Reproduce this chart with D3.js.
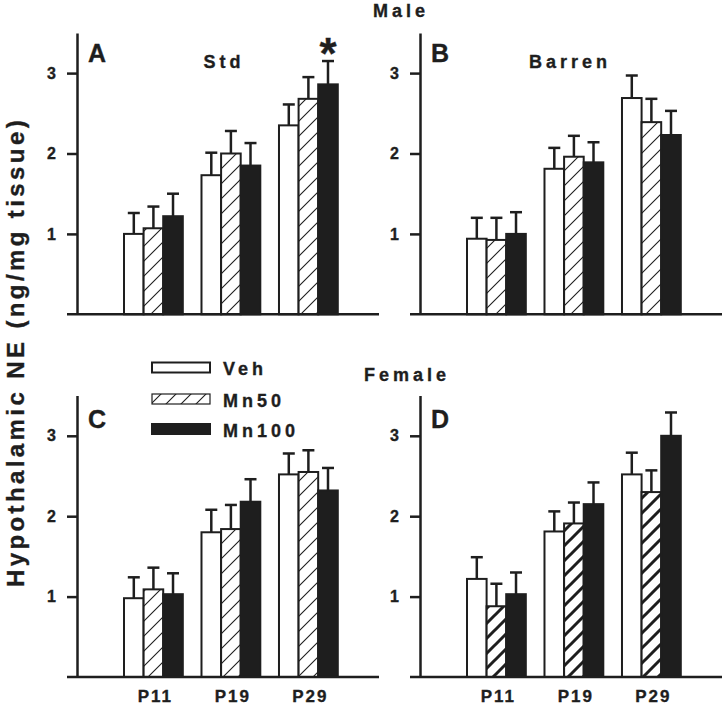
<!DOCTYPE html>
<html><head><meta charset="utf-8">
<script src="https://cdn.jsdelivr.net/npm/d3@7"></script>
<style>
html,body{margin:0;padding:0;background:#fff;}
text{font-family:"Liberation Sans",Arial,sans-serif;font-weight:bold;fill:#1e1e1e;stroke:#1e1e1e;stroke-width:0.35px;}
</style></head>
<body>
<svg id="chart" width="723" height="707"></svg>
<script>
// ---- data ----
const categories = ["P11", "P19", "P29"];
const seriesNames = ["Veh", "Mn50", "Mn100"];
const yTickValues = [1, 2, 3];
// means per series (rows: Veh, Mn50, Mn100; cols: P11, P19, P29)
const meansMaleStd    = [[1.00, 1.73, 2.35], [1.07, 2.00, 2.68], [1.22, 1.85, 2.86]];
const errsMaleStd     = [[0.26, 0.28, 0.26], [0.27, 0.28, 0.27], [0.28, 0.28, 0.29]];
const meansMaleBarren = [[0.94, 1.81, 2.69], [0.925, 1.96, 2.39], [1.00, 1.89, 2.23]];
const errsMaleBarren  = [[0.26, 0.26, 0.28], [0.275, 0.26, 0.29], [0.27, 0.25, 0.30]];
const meansFemStd     = [[0.98, 1.80, 2.52], [1.09, 1.84, 2.55], [1.03, 2.18, 2.32]];
const errsFemStd      = [[0.26, 0.28, 0.26], [0.27, 0.30, 0.27], [0.26, 0.28, 0.28]];
const meansFemBarren  = [[1.22, 1.81, 2.52], [0.88, 1.91, 2.30], [1.03, 2.15, 3.00]];
const errsFemBarren   = [[0.27, 0.25, 0.27], [0.28, 0.26, 0.27], [0.27, 0.27, 0.29]];
const panelLetters = ["A", "B", "C", "D"];
const panelSubtitles = ["Std", "Barren", "", ""];
const sexTitles = ["Male", "Female"];
const yTitle = "Hypothalamic NE (ng/mg tissue)";
const significance = [{panel: 0, series: 2, cat: 2, mark: "*"}];

// ---- drawing ----
const svg = d3.select("#chart");
const INK = "#1e1e1e";
const defs = svg.append("defs");
function hatch(id, w) {
  const s = 15;
  const p = defs.append("pattern").attr("id", id).attr("patternUnits", "userSpaceOnUse")
    .attr("width", s).attr("height", s);
  p.append("rect").attr("width", s).attr("height", s).attr("fill", "#fff");
  p.append("path").attr("d", `M0,${s} L${s},0 M${-s/4},${s/4} L${s/4},${-s/4} M${3*s/4},${5*s/4} L${5*s/4},${3*s/4}`)
    .attr("stroke", INK).attr("stroke-width", w).attr("fill", "none");
}
hatch("hatchThin", 1.1);
hatch("hatchBold", 3);

const panels = [
  {means: meansMaleStd,    errs: errsMaleStd,    ax: 77,  zero: 314.3, xl: false, bold: false, letterY: 62,  subY: 68},
  {means: meansMaleBarren, errs: errsMaleBarren, ax: 420, zero: 314.3, xl: false, bold: false, letterY: 62,  subY: 68},
  {means: meansFemStd,     errs: errsFemStd,     ax: 77,  zero: 677,   xl: true,  bold: false, letterY: 428, subY: 0},
  {means: meansFemBarren,  errs: errsFemBarren,  ax: 420, zero: 677,   xl: true,  bold: true,  letterY: 428, subY: 0}
];
const unit = 80.4;

panels.forEach((P, pi) => {
  const g = svg.append("g");
  const y = d3.scaleLinear().domain([0, 3.5]).range([P.zero, P.zero - 3.5 * unit]);
  const x = d3.scaleBand().domain(categories).range([P.ax + 47, P.ax + 260.8]).paddingInner(0.241).paddingOuter(0);
  const xs = d3.scaleBand().domain(seriesNames).range([0, x.bandwidth()]);
  const fills = ["#fff", P.bold ? "url(#hatchBold)" : "url(#hatchThin)", INK];

  // bars
  seriesNames.forEach((s, si) => {
    categories.forEach((c, ci) => {
      const v = P.means[si][ci];
      g.append("rect")
        .attr("x", x(c) + xs(s)).attr("width", xs.bandwidth())
        .attr("y", y(v)).attr("height", y(0) - y(v))
        .attr("fill", fills[si]).attr("stroke", INK).attr("stroke-width", 2);
    });
  });
  // error bars (upper only)
  seriesNames.forEach((s, si) => {
    categories.forEach((c, ci) => {
      const v = P.means[si][ci], e = P.errs[si][ci];
      const cx = x(c) + xs(s) + xs.bandwidth() / 2;
      g.append("line").attr("x1", cx).attr("x2", cx).attr("y1", y(v)).attr("y2", y(v + e))
        .attr("stroke", INK).attr("stroke-width", 2.5);
      g.append("line").attr("x1", cx - 6).attr("x2", cx + 6).attr("y1", y(v + e)).attr("y2", y(v + e))
        .attr("stroke", INK).attr("stroke-width", 2.5);
    });
  });

  // y axis
  const yAxis = g.append("g").attr("transform", `translate(${P.ax},0)`)
    .call(d3.axisLeft(y).tickValues(yTickValues).tickSize(10).tickSizeOuter(0).tickPadding(11).tickFormat(d3.format("d")));
  yAxis.select(".domain").attr("stroke", INK).attr("stroke-width", 2.5);
  yAxis.selectAll(".tick line").attr("stroke", INK).attr("stroke-width", 2.5);
  yAxis.selectAll(".tick text").attr("font-size", 16).attr("font-family", "Liberation Sans, Arial, sans-serif")
    .attr("font-weight", "bold").attr("fill", INK);

  // x axis baseline
  g.append("line").attr("x1", P.ax - 10).attr("x2", Math.min(P.ax + 302, 723)).attr("y1", y(0)).attr("y2", y(0))
    .attr("stroke", INK).attr("stroke-width", 2.5);
  if (P.xl) {
    const xAxis = g.append("g").attr("transform", `translate(2,${y(0)})`)
      .call(d3.axisBottom(x).tickSize(0).tickPadding(13));
    xAxis.select(".domain").remove();
    xAxis.selectAll(".tick text").attr("font-size", 17).attr("font-family", "Liberation Sans, Arial, sans-serif")
      .attr("font-weight", "bold").attr("fill", INK).style("letter-spacing", "2px");
  }

  // panel letter
  g.append("text").attr("x", P.ax + 11).attr("y", P.letterY).attr("font-size", 25).text(panelLetters[pi]);
  if (panelSubtitles[pi]) {
    g.append("text").attr("x", pi === 0 ? P.ax + 147 : P.ax + 150).attr("y", P.subY).attr("text-anchor", "middle")
      .attr("font-size", 18).style("letter-spacing", "4px").text(panelSubtitles[pi]);
  }
  significance.filter(d => d.panel === pi).forEach(d => {
    const cx = x(categories[d.cat]) + xs(seriesNames[d.series]) + xs.bandwidth() / 2;
    g.append("text").attr("x", cx).attr("y", 69).attr("text-anchor", "middle").attr("font-size", 44).text(d.mark);
  });
});

// sex titles
svg.append("text").attr("x", 401).attr("y", 17).attr("text-anchor", "middle").attr("font-size", 18)
  .style("letter-spacing", "4px").text(sexTitles[0]);
svg.append("text").attr("x", 407).attr("y", 381).attr("text-anchor", "middle").attr("font-size", 18)
  .style("letter-spacing", "4px").text(sexTitles[1]);

// y title
svg.append("text").attr("transform", "translate(24,352) rotate(-90)").attr("text-anchor", "middle")
  .attr("font-size", 24).style("letter-spacing", "3.4px").text(yTitle);

// legend
const legFills = ["#fff", "url(#hatchThin)", INK];
const legY = [367.5, 399, 429];
seriesNames.forEach((s, i) => {
  svg.append("rect").attr("x", 152).attr("y", legY[i] - 5).attr("width", 58).attr("height", 10)
    .attr("fill", legFills[i]).attr("stroke", INK).attr("stroke-width", i === 1 ? 1.2 : 2);
  svg.append("text").attr("x", 223).attr("y", legY[i] + 7.5).attr("font-size", 18)
    .style("letter-spacing", "4px").text(s);
});
</script>
</body></html>
